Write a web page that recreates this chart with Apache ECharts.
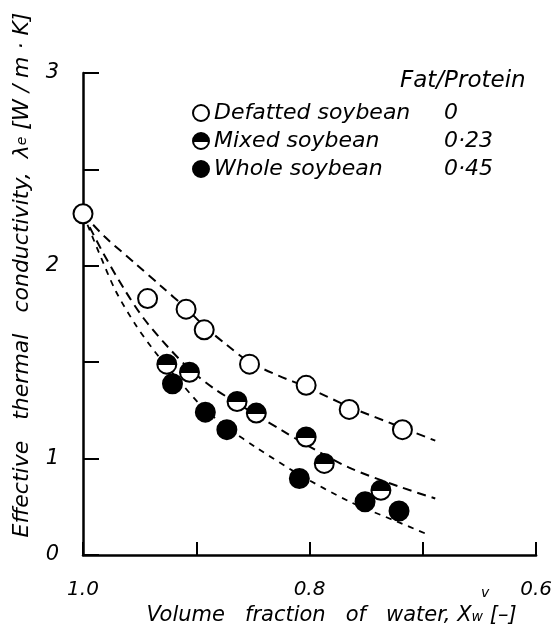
<!DOCTYPE html>
<html>
<head>
<meta charset="utf-8">
<script src="https://cdn.jsdelivr.net/npm/echarts@6/dist/echarts.min.js"></script>
<style>
  html, body { margin: 0; padding: 0; background: #fff; }
  #main { width: 555px; height: 638px; }
</style>
</head>
<body>
<div id="main"></div>
<script>
// data
var seriesNames = ['Defatted soybean', 'Mixed soybean', 'Whole soybean'];
var fatProtein = ['0', '0·23', '0·45'];

var defattedX = [1.0, 0.943, 0.909, 0.893, 0.853, 0.803, 0.765, 0.718];
var defattedY = [2.27, 1.83, 1.775, 1.668, 1.49, 1.38, 1.255, 1.15];
var mixedX = [0.926, 0.906, 0.864, 0.847, 0.803, 0.787, 0.737];
var mixedY = [1.49, 1.448, 1.296, 1.236, 1.112, 0.975, 0.836];
var wholeX = [0.921, 0.892, 0.873, 0.809, 0.751, 0.721];
var wholeY = [1.388, 1.241, 1.15, 0.897, 0.776, 0.728];

// dashed curves
var defFitX = [1.0, 0.981, 0.954, 0.931, 0.909, 0.893, 0.873, 0.853, 0.827, 0.803, 0.765, 0.718, 0.689];
var defFitY = [2.27, 2.152, 2.013, 1.894, 1.78, 1.687, 1.589, 1.501, 1.429, 1.372, 1.269, 1.16, 1.093];
var mixFitX = [1.0, 0.983, 0.963, 0.946, 0.925, 0.906, 0.884, 0.847, 0.824, 0.80, 0.765, 0.721, 0.689];
var mixFitY = [2.27, 2.075, 1.873, 1.724, 1.579, 1.465, 1.362, 1.227, 1.145, 1.062, 0.953, 0.855, 0.793];
var wholeFitX = [1.0, 0.986, 0.971, 0.954, 0.937, 0.915, 0.893, 0.871, 0.847, 0.809, 0.765, 0.721, 0.698];
var wholeFitY = [2.27, 2.07, 1.868, 1.698, 1.558, 1.403, 1.258, 1.155, 1.057, 0.917, 0.778, 0.669, 0.612];

var yLabels = { '0.5': '0', '1': '1', '2': '2', '3': '3' };
var xLabels = { '1': '1.0', '0.8': '0.8', '0.6': '0.6' };

function pairs(xs, ys) {
  return xs.map(function (x, i) { return [x, ys[i]]; });
}

var font = 'DejaVu Sans';
var halfFill = {
  type: 'linear', x: 0, y: 0, x2: 0, y2: 1,
  colorStops: [
    { offset: 0, color: '#000' }, { offset: 0.54, color: '#000' },
    { offset: 0.54, color: '#fff' }, { offset: 1, color: '#fff' }
  ]
};

var myChart = echarts.init(document.getElementById('main'));

var fitLine = function (name, data, dash, w) {
  return {
    name: name, type: 'line', data: data, smooth: 0.3,
    symbol: 'none', silent: true, z: 1,
    lineStyle: { color: '#000', width: w, type: dash }
  };
};

var option = {
  animation: false,
  backgroundColor: '#fff',
  grid: { left: 83, right: 17, top: 73, bottom: 83 },
  legend: {
    data: seriesNames,
    orient: 'vertical',
    left: 187, top: 97,
    itemGap: 6, itemWidth: 16, itemHeight: 16,
    icon: 'circle',
    formatter: function (name) {
      return '{n|' + name + '}{v|' + fatProtein[seriesNames.indexOf(name)] + '}';
    },
    textStyle: {
      color: '#000', fontFamily: font, fontStyle: 'italic', fontSize: 22,
      rich: {
        n: { width: 230, fontFamily: font, fontStyle: 'italic', fontSize: 22, lineHeight: 24, color: '#000' },
        v: { fontFamily: font, fontStyle: 'italic', fontSize: 22, lineHeight: 24, color: '#000' }
      }
    }
  },
  graphic: [
    { type: 'text', left: 400, top: 70,
      style: { text: 'Fat/Protein', font: 'italic 23px "DejaVu Sans"', fill: '#000' } },
    { type: 'text', left: 481, top: 586,
      style: { text: 'v', font: 'italic 14px "DejaVu Sans"', fill: '#000' } }
  ],
  xAxis: {
    type: 'value', min: 0.6, max: 1.0, interval: 0.1, inverse: true,
    splitLine: { show: false },
    axisLine: { lineStyle: { color: '#000', width: 2.5 } },
    axisTick: { inside: true, length: 13, lineStyle: { color: '#000', width: 2 } },
    axisLabel: {
      margin: 25, color: '#000', fontFamily: font, fontStyle: 'italic', fontSize: 20,
      formatter: function (v) { return xLabels[String(Math.round(v * 10) / 10)] || ''; }
    },
    name: 'Volume   fraction   of   water, X{s|w} [–]',
    nameLocation: 'middle', nameGap: 48,
    nameTextStyle: {
      color: '#000', fontFamily: font, fontStyle: 'italic', fontSize: 21,
      padding: [0, 0, 0, 44],
      rich: { s: { fontFamily: font, fontStyle: 'italic', fontSize: 14, color: '#000', padding: [0, 0, -4, 0] } }
    }
  },
  yAxis: {
    type: 'value', min: 0.5, max: 3, interval: 0.5,
    splitLine: { show: false },
    axisLine: { lineStyle: { color: '#000', width: 2.5 } },
    axisTick: { inside: true, length: 16, lineStyle: { color: '#000', width: 2 } },
    axisLabel: {
      margin: 24, color: '#000', fontFamily: font, fontStyle: 'italic', fontSize: 21,
      formatter: function (v) { return yLabels[String(Math.round(v * 10) / 10)] || ''; }
    },
    name: 'Effective   thermal   conductivity,  λ{s|e} [W / m · K]',
    nameLocation: 'middle', nameGap: 50,
    nameTextStyle: {
      color: '#000', fontFamily: font, fontStyle: 'italic', fontSize: 22,
      padding: [0, 0, 0, 78],
      rich: { s: { fontFamily: font, fontStyle: 'italic', fontSize: 14, color: '#000' } }
    }
  },
  series: [
    fitLine('fitD', pairs(defFitX, defFitY), [9, 6], 2),
    fitLine('fitM', pairs(mixFitX, mixFitY), [9, 6], 2),
    fitLine('fitW', pairs(wholeFitX, wholeFitY), [6, 6], 1.8),
    {
      name: seriesNames[0], type: 'scatter', data: pairs(defattedX, defattedY),
      symbol: 'circle', symbolSize: 19, z: 3,
      itemStyle: { color: '#fff', borderColor: '#000', borderWidth: 2, opacity: 1 }
    },
    {
      name: seriesNames[1], type: 'scatter', data: pairs(mixedX, mixedY),
      symbol: 'circle', symbolSize: 19, z: 3,
      itemStyle: { color: halfFill, borderColor: '#000', borderWidth: 2, opacity: 1 }
    },
    {
      name: seriesNames[2], type: 'scatter', data: pairs(wholeX, wholeY),
      symbol: 'circle', symbolSize: 19, z: 3,
      itemStyle: { color: '#000', borderColor: '#000', borderWidth: 2, opacity: 1 }
    }
  ]
};

myChart.setOption(option);
</script>
</body>
</html>
